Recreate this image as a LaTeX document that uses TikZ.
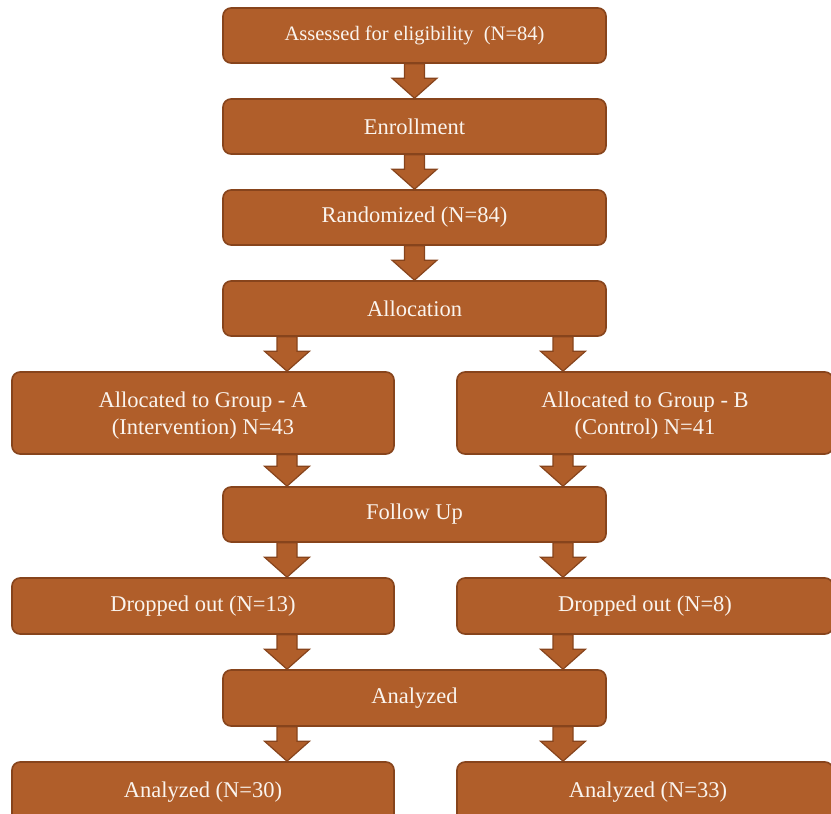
\documentclass[tikz,border=0pt]{standalone}
\usepackage{fontspec}
\setmainfont{Liberation Serif}
\usetikzlibrary{calc}
\definecolor{boxfill}{RGB}{176,94,42}
\definecolor{boxedge}{RGB}{135,68,28}
\definecolor{boxtext}{RGB}{250,244,238}
\tikzset{
  box/.style={draw=boxedge, fill=boxfill, line width=1.6pt, rounded corners=8pt,
    text=boxtext, inner sep=0pt, align=center, font=\fontsize{22.5}{27.5}\selectfont},
  wide/.style={box, minimum width=383pt, minimum height=55pt},
  side/.style={box, minimum width=382pt},
  blockarr/.style={draw=boxedge, fill=boxfill, line width=1.2pt, line join=miter,
    to path={let \p1=(\tikztostart), \p2=(\tikztotarget) in
      (\x1-10pt,\y1) -- (\x1+10pt,\y1) -- (\x1+10pt,\y2+20pt) -- (\x1+22.5pt,\y2+20pt)
      -- (\x1,\y2) -- (\x1-22.5pt,\y2+20pt) -- (\x1-10pt,\y2+20pt) -- cycle}}
}
\begin{document}
\begin{tikzpicture}[x=1pt,y=-1pt]
\useasboundingbox (0,0) rectangle (831,814);
\clip (0,0) rectangle (831,814);
\coordinate (colL) at (287,0);
\coordinate (colR) at (563,0);
% central boxes
\node[wide, font=\fontsize{20.5}{24}\selectfont] (assess) at (414.5,35.5) {Assessed for eligibility~ (N=84)};
\node[wide] (enrol) at (414.5,126.5) {Enrollment};
\node[wide] (rand) at (414.5,217.5) {Randomized (N=84)};
\node[wide] (alloc) at (414.5,308.5) {Allocation};
\node[side, minimum height=82pt, text depth=0pt] (ga) at (203,413) {Allocated to Group - A\\(Intervention) N=43};
\node[box, minimum width=376pt, minimum height=82pt, text depth=0pt] (gb) at (645,413) {Allocated to Group - B\\(Control) N=41};
\node[wide] (follow) at (414.5,514.5) {Follow Up};
\node[side, minimum height=56pt] (da) at (203,606) {Dropped out (N=13)};
\node[box, minimum width=376pt, minimum height=56pt] (db) at (645,606) {Dropped out (N=8)};
\node[wide, minimum height=56pt] (anal) at (414.5,698) {Analyzed};
\node[side, minimum height=80pt] (aa) at (203,802) {};
\node[box, minimum width=376pt, minimum height=80pt] (ab) at (645,802) {};
\node[text=boxtext, font=\fontsize{22.5}{27}\selectfont, inner sep=0pt] (aat) at (203,792) {Analyzed (N=30)};
\node[text=boxtext, font=\fontsize{22.5}{27}\selectfont, inner sep=0pt] (abt) at (648,792) {Analyzed (N=33)};
% arrows
\draw[blockarr] (assess.south) to (enrol.north);
\draw[blockarr] (enrol.south) to (rand.north);
\draw[blockarr] (rand.south) to (alloc.north);
\draw[blockarr] (alloc.south -| colL) to (ga.north -| colL);
\draw[blockarr] (alloc.south -| colR) to (gb.north -| colR);
\draw[blockarr] (ga.south -| colL) to (follow.north -| colL);
\draw[blockarr] (gb.south -| colR) to (follow.north -| colR);
\draw[blockarr] (follow.south -| colL) to (da.north -| colL);
\draw[blockarr] (follow.south -| colR) to (db.north -| colR);
\draw[blockarr] (da.south -| colL) to (anal.north -| colL);
\draw[blockarr] (db.south -| colR) to (anal.north -| colR);
\draw[blockarr] (anal.south -| colL) to (aa.north -| colL);
\draw[blockarr] (anal.south -| colR) to (ab.north -| colR);
\end{tikzpicture}
\end{document}
